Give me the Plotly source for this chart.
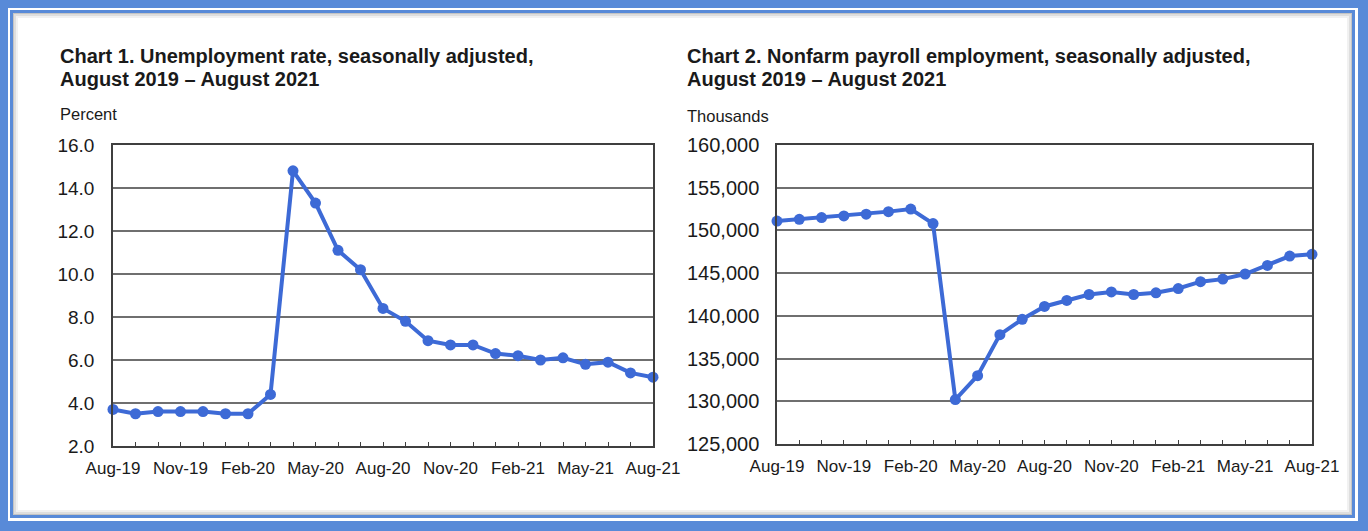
import plotly.graph_objects as go

W, H = 1368, 531

months = [
    "Aug-19", "Sep-19", "Oct-19", "Nov-19", "Dec-19", "Jan-20", "Feb-20",
    "Mar-20", "Apr-20", "May-20", "Jun-20", "Jul-20", "Aug-20", "Sep-20",
    "Oct-20", "Nov-20", "Dec-20", "Jan-21", "Feb-21", "Mar-21", "Apr-21",
    "May-21", "Jun-21", "Jul-21", "Aug-21",
]
unemployment_rate = [
    3.7, 3.5, 3.6, 3.6, 3.6, 3.5, 3.5, 4.4, 14.8, 13.3, 11.1, 10.2, 8.4,
    7.8, 6.9, 6.7, 6.7, 6.3, 6.2, 6.0, 6.1, 5.8, 5.9, 5.4, 5.2,
]
payroll_thousands = [
    151100, 151300, 151500, 151700, 151900, 152200, 152500, 150800, 130200,
    133000, 137800, 139600, 141100, 141800, 142500, 142800, 142500, 142700,
    143200, 144000, 144300, 144900, 145900, 147000, 147200,
]
labelled_months = ["Aug-19", "Nov-19", "Feb-20", "May-20", "Aug-20",
                   "Nov-20", "Feb-21", "May-21", "Aug-21"]
rate_ticks = [2, 4, 6, 8, 10, 12, 14, 16]
payroll_ticks = [125000, 130000, 135000, 140000, 145000, 150000, 155000, 160000]

BLUE = "#3d6ad6"
FRAME = "#588ad8"
FONT = "Liberation Sans, Arial, sans-serif"
TEXT = "#1a1a1a"


def px(x):
    return x / W


def py(y):
    return 1 - y / H


def _series(x, y, xa, ya):
    return go.Scatter(
        x=x, y=y, xaxis=xa, yaxis=ya, mode="lines+markers",
        line=dict(color=BLUE, width=4),
        marker=dict(color=BLUE, size=11),
        showlegend=False, hoverinfo="x+y", cliponaxis=False,
    )


def _xaxis(left, right):
    return dict(
        domain=[px(left), px(right)],
        type="category", categoryorder="array", categoryarray=months,
        range=[0, len(months) - 1],
        tickmode="array", tickvals=months,
        ticktext=[m if m in labelled_months else "" for m in months],
        ticks="inside", ticklen=4, tickwidth=1.3, tickcolor="#3f3f3f",
        tickangle=0, automargin=False, ticklabelstandoff=6,
        tickfont=dict(family=FONT, size=17, color=TEXT),
        showline=True, linecolor="#3f3f3f", linewidth=1.5, mirror=True,
        showgrid=False, zeroline=False, fixedrange=True,
    )


def _yaxis(top, bottom, ticks, fmt, standoff, size):
    return dict(
        domain=[py(bottom), py(top)],
        range=[ticks[0], ticks[-1]],
        tickmode="array", tickvals=ticks, tickformat=fmt,
        ticks="", ticklabelstandoff=standoff, automargin=False,
        tickfont=dict(family=FONT, size=size, color=TEXT),
        showline=True, linecolor="#3f3f3f", linewidth=1.5, mirror=True,
        showgrid=True, gridcolor="#6f6f6f", gridwidth=1.5,
        zeroline=False, fixedrange=True,
    )


fig = go.Figure()
fig.add_trace(_series(months, unemployment_rate, "x", "y"))
fig.add_trace(_series(months, payroll_thousands, "x2", "y2"))

# frame: blue border, white stripe, thin blue line, soft inner shadow
shapes = []
for (x0, y0, x1, y1, col) in [
    (8, 8, 1358, 521, "#ffffff"),
    (10, 10, 1355, 518, FRAME),
    (13, 13, 1352, 515, "#c4c4c4"),
    (14, 14, 1351, 514, "#dedede"),
    (16, 16, 1349, 512, "#f1f1f1"),
    (18, 18, 1347, 510, "#ffffff"),
]:
    shapes.append(dict(type="rect", xref="paper", yref="paper",
                       x0=px(x0), x1=px(x1), y0=py(y1), y1=py(y0),
                       fillcolor=col, line=dict(width=0), layer="below"))

annotations = []
for x, lines, unit, unit_y in [
    (58, ["Chart 1. Unemployment rate, seasonally adjusted,",
          "August 2019 \u2013 August 2021"], "Percent", 114),
    (685, ["Chart 2. Nonfarm payroll employment, seasonally adjusted,",
           "August 2019 \u2013 August 2021"], "Thousands", 116),
]:
    for i, line in enumerate(lines):
        annotations.append(dict(
            text=f"<b>{line}</b>", xref="paper", yref="paper",
            x=px(x), y=py(56 + 23 * i), xanchor="left", yanchor="middle",
            showarrow=False, font=dict(family=FONT, size=20, color=TEXT),
        ))
    annotations.append(dict(
        text=unit, xref="paper", yref="paper",
        x=px(x), y=py(unit_y), xanchor="left", yanchor="middle",
        showarrow=False, font=dict(family=FONT, size=16.5, color=TEXT),
    ))

fig.update_layout(
    width=W, height=H,
    margin=dict(l=0, r=0, t=0, b=0, pad=0, autoexpand=False),
    paper_bgcolor=FRAME, plot_bgcolor="white",
    xaxis=_xaxis(113, 653),
    yaxis=_yaxis(145, 446, rate_ticks, ".1f", 13, 19),
    xaxis2=dict(_xaxis(777, 1312), anchor="y2"),
    yaxis2=dict(_yaxis(145, 444, payroll_ticks, ",d", 12, 20), anchor="x2"),
    shapes=shapes, annotations=annotations,
)

fig.write_html(
    "out.html",
    config={"displayModeBar": False},
    post_script="document.body.style.margin='0';",
)
